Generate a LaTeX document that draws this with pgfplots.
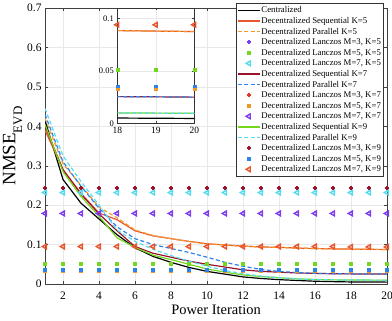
\documentclass[border=0pt]{standalone}
\usepackage{pgfplots}
\pgfplotsset{compat=1.18}
\usepackage{pgfplotstable}
\usepackage{fontspec}
\setmainfont{Liberation Serif}

\definecolor{cRed}{RGB}{235,85,45}
\definecolor{cRedB}{RGB}{230,55,40}
\definecolor{cOrange}{RGB}{242,152,40}
\definecolor{cPurple}{RGB}{125,60,238}
\definecolor{cGreen}{RGB}{115,215,30}
\definecolor{cCyan}{RGB}{85,220,240}
\definecolor{cDarkRed}{RGB}{155,20,45}
\definecolor{cBlue}{RGB}{45,130,235}

\pgfplotstableread{
x cen seq5 par5 seq7 par7 seq9 par9
1  0.415 0.390 0.420 0.400 0.430 0.405 0.445
2  0.265 0.290 0.305 0.290 0.310 0.285 0.325
3  0.205 0.230 0.250 0.228 0.248 0.222 0.260
4  0.165 0.180 0.195 0.178 0.192 0.172 0.200
5  0.125 0.163 0.168 0.135 0.145 0.117 0.137
6  0.092 0.135 0.137 0.095 0.115 0.093 0.108
7  0.070 0.122 0.123 0.078 0.100 0.073 0.088
8  0.055 0.115 0.115 0.068 0.090 0.062 0.072
9  0.042 0.108 0.108 0.058 0.080 0.050 0.058
10 0.032 0.102 0.102 0.050 0.068 0.038 0.045
11 0.025 0.099 0.099 0.043 0.055 0.030 0.034
12 0.018 0.096 0.096 0.036 0.045 0.023 0.026
13 0.014 0.094 0.094 0.032 0.037 0.019 0.020
14 0.011 0.093 0.093 0.030 0.032 0.016 0.016
15 0.009 0.091 0.091 0.028 0.029 0.013 0.013
16 0.007 0.090 0.090 0.027 0.027 0.0115 0.0115
17 0.006 0.089 0.089 0.026 0.026 0.0105 0.0105
18 0.0052 0.0885 0.0885 0.0256 0.0256 0.0101 0.0101
19 0.0050 0.0880 0.0880 0.0254 0.0254 0.0099 0.0099
20 0.0048 0.0876 0.0876 0.0251 0.0251 0.0097 0.0097
}\curves

\pgfplotstableread{
x l3k5 l5k5 l7k5 l3k7 l5k7 l7k7 l3k9 l5k9 l7k9
1  0.243 0.051 0.232 0.243 0.033 0.179 0.243 0.0355 0.095
2  0.243 0.051 0.232 0.243 0.033 0.179 0.243 0.0355 0.095
3  0.243 0.051 0.232 0.243 0.033 0.179 0.243 0.0355 0.095
4  0.243 0.051 0.232 0.243 0.033 0.179 0.243 0.0355 0.095
5  0.243 0.051 0.232 0.243 0.033 0.179 0.243 0.0355 0.095
6  0.243 0.051 0.232 0.243 0.033 0.179 0.243 0.0355 0.095
7  0.243 0.051 0.232 0.243 0.033 0.179 0.243 0.0355 0.095
8  0.243 0.051 0.232 0.243 0.033 0.179 0.243 0.0355 0.095
9  0.243 0.051 0.232 0.243 0.033 0.179 0.243 0.0355 0.095
10 0.243 0.051 0.232 0.243 0.033 0.179 0.243 0.0355 0.095
11 0.243 0.051 0.232 0.243 0.033 0.179 0.243 0.0355 0.095
12 0.243 0.051 0.232 0.243 0.033 0.179 0.243 0.0355 0.095
13 0.243 0.051 0.232 0.243 0.033 0.179 0.243 0.0355 0.095
14 0.243 0.051 0.232 0.243 0.033 0.179 0.243 0.0355 0.095
15 0.243 0.051 0.232 0.243 0.033 0.179 0.243 0.0355 0.095
16 0.243 0.051 0.232 0.243 0.033 0.179 0.243 0.0355 0.095
17 0.243 0.051 0.232 0.243 0.033 0.179 0.243 0.0355 0.095
18 0.243 0.051 0.232 0.243 0.033 0.179 0.243 0.0355 0.094
19 0.243 0.051 0.232 0.243 0.033 0.179 0.243 0.0355 0.094
20 0.243 0.051 0.232 0.243 0.033 0.179 0.243 0.0355 0.094
}\lanczos

\pgfplotsset{
  ln/.style={line width=1.2pt, no marks},
  dl/.style={line width=1.2pt, no marks, dash pattern=on 4bp off 2.5bp},
  m3/.style={only marks, mark=+, mark size=2.3bp, mark options={line width=1.4pt}},
  m5/.style={only marks, mark=square*, mark size=1.4bp},
  m7/.style={only marks, mark=triangle, mark size=2.7bp, mark options={rotate=90, line width=1.4pt}},
}

\begin{document}
\begin{tikzpicture}
\useasboundingbox (0,0) rectangle (392bp,321bp);
\begin{axis}[
  name=main, at={(45bp,37bp)}, anchor=south west,
  scale only axis, width=342bp, height=276bp,
  xmin=1, xmax=20, ymin=0, ymax=0.7,
  xtick={2,4,...,20}, ytick={0,0.1,0.2,0.3,0.4,0.5,0.6,0.7},
  yticklabel style={/pgf/number format/fixed, /pgf/number format/precision=1},
  xticklabel style={yshift=-4bp},
  /pgf/number format/assume math mode=true,
  tick label style={font=\fontsize{11.5}{12}\selectfont},
  grid=major, major grid style={draw=gray!18, line width=0.4pt},
  axis line style={draw=black!75, line width=0.6pt},
  tick align=inside, tick style={black!75}, major tick length=3bp,
  xlabel={Power Iteration}, xlabel style={font=\fontsize{14.5}{15}\selectfont, yshift=-1.5bp, inner sep=1bp},
  ylabel={NMSE\raisebox{-0.35em}{\fontsize{13}{13}\selectfont EVD}},
  ylabel style={font=\fontsize{19}{20}\selectfont, yshift=-2bp},
  legend cell align=left,
  legend image code/.code={\draw[mark repeat=2,mark phase=2,#1] plot coordinates {(0bp,0bp)(11bp,0bp)(22bp,0bp)};},
  legend style={at={(0.99,1.017)}, anchor=north east, draw=black!80, fill=white,
    font=\fontsize{8.8}{10}\selectfont, inner sep=1.5bp, row sep=0bp,
    nodes={inner sep=1bp, text height=6.8bp, text depth=1.8bp}},
]
\addplot[ln, black] table[x=x,y=cen]{\curves};
\addlegendentry{Centralized}
\addplot[ln, cRed] table[x=x,y=seq5]{\curves};
\addlegendentry{Decentralized Sequential K=5}
\addplot[dl, cOrange] table[x=x,y=par5]{\curves};
\addlegendentry{Decentralized Parallel K=5}
\addplot[m3, cPurple] table[x=x,y=l3k5]{\lanczos};
\addlegendentry{Decentralized Lanczos M=3, K=5}
\addplot[m5, cGreen] table[x=x,y=l5k5]{\lanczos};
\addlegendentry{Decentralized Lanczos M=5, K=5}
\addplot[m7, cCyan] table[x=x,y=l7k5]{\lanczos};
\addlegendentry{Decentralized Lanczos M=7, K=5}
\addplot[ln, cDarkRed] table[x=x,y=seq7]{\curves};
\addlegendentry{Decentralized Sequential K=7}
\addplot[dl, cBlue] table[x=x,y=par7]{\curves};
\addlegendentry{Decentralized Parallel K=7}
\addplot[m3, cRedB] table[x=x,y=l3k7]{\lanczos};
\addlegendentry{Decentralized Lanczos M=3, K=7}
\addplot[m5, cOrange] table[x=x,y=l5k7]{\lanczos};
\addlegendentry{Decentralized Lanczos M=5, K=7}
\addplot[m7, cPurple] table[x=x,y=l7k7]{\lanczos};
\addlegendentry{Decentralized Lanczos M=7, K=7}
\addplot[ln, cGreen] table[x=x,y=seq9]{\curves};
\addlegendentry{Decentralized Sequential K=9}
\addplot[dl, cCyan] table[x=x,y=par9]{\curves};
\addlegendentry{Decentralized Parallel K=9}
\addplot[m3, cDarkRed] table[x=x,y=l3k9]{\lanczos};
\addlegendentry{Decentralized Lanczos M=3, K=9}
\addplot[m5, cBlue] table[x=x,y=l5k9]{\lanczos};
\addlegendentry{Decentralized Lanczos M=5, K=9}
\addplot[m7, cRed] table[x=x,y=l7k9]{\lanczos};
\addlegendentry{Decentralized Lanczos M=7, K=9}
\end{axis}

\begin{axis}[
  at={(117.3bp,197.5bp)}, anchor=south west,
  scale only axis, width=77bp, height=115.5bp,
  xmin=18, xmax=20, ymin=0, ymax=0.11,
  xtick={18,19,20}, ytick={0,0.05,0.1}, yticklabels={0,0.05,0.1},
  /pgf/number format/assume math mode=true,
  xticklabel style={font=\fontsize{9.5}{10}\selectfont},
  yticklabel style={font=\fontsize{8.5}{9}\selectfont},
  axis background/.style={fill=white},
  grid=major, major grid style={draw=gray!18, line width=0.4pt},
  axis line style={draw=black!80, line width=0.8pt},
  tick align=inside, tick style={black!75}, major tick length=2.5bp,
]
\addplot[ln, black] table[x=x,y=cen]{\curves};
\addplot[ln, cRed] table[x=x,y=seq5]{\curves};
\addplot[dl, cOrange] table[x=x,y=par5]{\curves};
\addplot[m3, cPurple, restrict x to domain=18:20] table[x=x,y=l3k5]{\lanczos};
\addplot[m5, cGreen, restrict x to domain=18:20] table[x=x,y=l5k5]{\lanczos};
\addplot[m7, cCyan, restrict x to domain=18:20] table[x=x,y=l7k5]{\lanczos};
\addplot[ln, cDarkRed] table[x=x,y=seq7]{\curves};
\addplot[dl, cBlue] table[x=x,y=par7]{\curves};
\addplot[m3, cRedB, restrict x to domain=18:20] table[x=x,y=l3k7]{\lanczos};
\addplot[m5, cOrange, restrict x to domain=18:20] table[x=x,y=l5k7]{\lanczos};
\addplot[m7, cPurple, restrict x to domain=18:20] table[x=x,y=l7k7]{\lanczos};
\addplot[ln, cGreen] table[x=x,y=seq9]{\curves};
\addplot[dl, cCyan] table[x=x,y=par9]{\curves};
\addplot[m3, cDarkRed, restrict x to domain=18:20] table[x=x,y=l3k9]{\lanczos};
\addplot[m5, cBlue, restrict x to domain=18:20] table[x=x,y=l5k9]{\lanczos};
\addplot[m7, cRed, restrict x to domain=18:20] table[x=x,y=l7k9]{\lanczos};
\end{axis}
\end{tikzpicture}
\end{document}
